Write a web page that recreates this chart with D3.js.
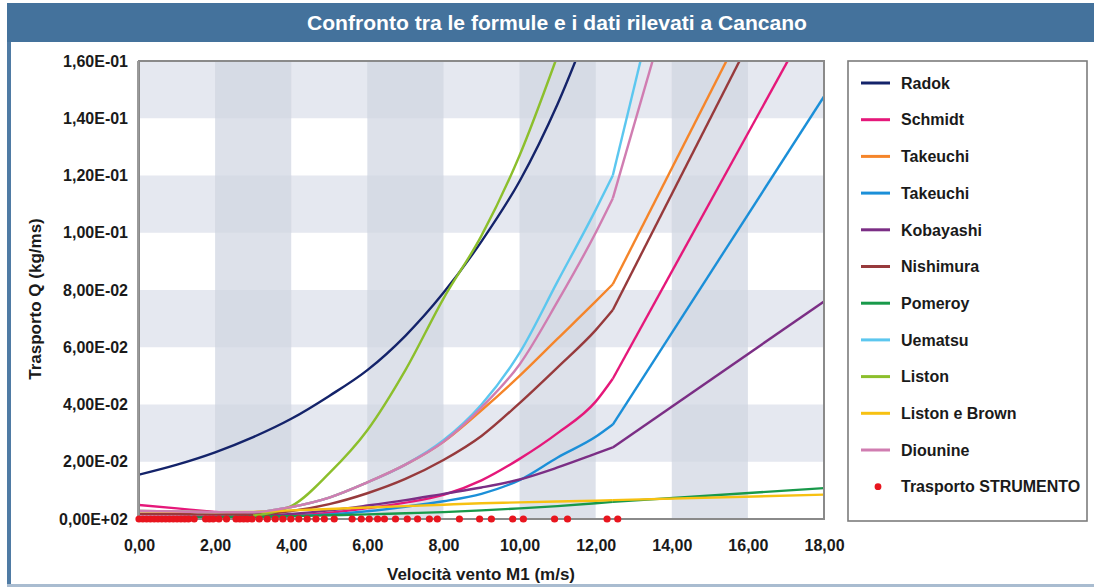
<!DOCTYPE html>
<html>
<head>
<meta charset="utf-8">
<script src="https://cdn.jsdelivr.net/npm/d3@7"></script>
<style>
  html, body { margin: 0; padding: 0; background: #ffffff; }
  svg { display: block; }
  text { font-family: "Liberation Sans", Arial, sans-serif; font-weight: bold; fill: #1a1a1a; }
</style>
</head>
<body>
<svg id="chart" width="1094" height="588"></svg>
<script>
// ---------- DATA ----------
const windSpeed = [0, 1, 2, 3, 4, 5, 6, 7, 8, 9, 10, 11, 12, 12.45, 18];

const radok        = [0.0155, 0.019, 0.0233, 0.0286, 0.035, 0.043, 0.052, 0.064, 0.079, 0.097, 0.118, 0.145, 0.178, null, null];
const schmidt      = [0.0049, 0.0037, 0.0025, 0.0015, 0.0013, 0.0022, 0.0038, 0.0057, 0.0084, 0.0135, 0.021, 0.030, 0.041, 0.049, 0.183];
const takeuchiA    = [0.0028, 0.0026, 0.0024, 0.0024, 0.0042, 0.0075, 0.0128, 0.019, 0.027, 0.038, 0.050, 0.063, 0.076, 0.082, 0.227];
const takeuchiB    = [0.0006, 0.0005, 0.0005, 0.0005, 0.0009, 0.0016, 0.0027, 0.0043, 0.0062, 0.0088, 0.0136, 0.0215, 0.0287, 0.033, 0.1476];
const kobayashi    = [0.0008, 0.0008, 0.0009, 0.0011, 0.0018, 0.003, 0.0047, 0.0066, 0.0088, 0.011, 0.0138, 0.018, 0.0228, 0.025, 0.076];
const nishimura    = [0.0018, 0.0017, 0.0016, 0.0016, 0.0028, 0.0052, 0.009, 0.014, 0.0206, 0.029, 0.0405, 0.053, 0.066, 0.073, 0.218];
const pomeroy      = [0.0003, 0.0004, 0.0006, 0.0008, 0.001, 0.0013, 0.0016, 0.002, 0.0024, 0.003, 0.0037, 0.0045, 0.0055, 0.006, 0.0108];
const uematsu      = [0.0028, 0.0026, 0.0024, 0.0024, 0.0042, 0.0075, 0.0128, 0.019, 0.0275, 0.040, 0.058, 0.083, 0.108, 0.120, 0.425];
const liston       = [null, null, null, 0.0012, 0.0045, 0.016, 0.031, 0.052, 0.077, 0.099, 0.127, 0.162, 0.200, null, null];
const listonBrown  = [0.0027, 0.0025, 0.0024, 0.0025, 0.003, 0.0035, 0.004, 0.0045, 0.005, 0.0055, 0.0058, 0.0061, 0.0064, 0.0066, 0.0085];
const diounine     = [0.0028, 0.0026, 0.0024, 0.0024, 0.0042, 0.0075, 0.0128, 0.019, 0.027, 0.039, 0.054, 0.076, 0.100, 0.112, 0.367];

const seriesNames  = ["Radok", "Schmidt", "Takeuchi", "Takeuchi", "Kobayashi", "Nishimura", "Pomeroy", "Uematsu", "Liston", "Liston e Brown", "Diounine"];
const seriesValues = [radok, schmidt, takeuchiA, takeuchiB, kobayashi, nishimura, pomeroy, uematsu, liston, listonBrown, diounine];
const seriesColors = ["#14236a", "#e5187a", "#f5852a", "#1b8fd8", "#7b2e85", "#973a3c", "#18994a", "#5cc7ef", "#8cbf2c", "#f7c112", "#d07db1"];

const strumentoName = "Trasporto STRUMENTO";
const strumentoX = [0, 0.1, 0.2, 0.3, 0.4, 0.5, 0.6, 0.7, 0.8, 0.9, 1.0, 1.1, 1.2, 1.3, 1.45,
                    1.75, 1.85, 1.95, 2.1, 2.3, 2.55, 2.65, 2.75, 2.85, 2.97, 3.16, 3.37, 3.58,
                    3.78, 3.99, 4.2, 4.42, 4.65, 4.87, 5.13, 5.6, 5.84, 6.05, 6.27, 6.45, 6.74,
                    7.05, 7.32, 7.63, 7.84, 8.42, 8.95, 9.26, 9.82, 10.1, 10.92, 11.26, 12.3, 12.58];
const strumentoQ = [0, 0, 0, 0, 0, 0, 0, 0, 0, 0, 0, 0, 0, 0, 0,
                    0, 0, 0, 0, 0, 0, 0, 0, 0, 0, 0, 0, 0,
                    0, 0, 0, 0, 0, 0, 0, 0, 0, 0, 0, 0, 0,
                    0, 0, 0, 0, 0, 0, 0, 0, 0, 0, 0, 0, 0];

const xTicks = [0, 2, 4, 6, 8, 10, 12, 14, 16, 18];
const xTickLabels = ["0,00", "2,00", "4,00", "6,00", "8,00", "10,00", "12,00", "14,00", "16,00", "18,00"];
const yTicks = [0, 0.02, 0.04, 0.06, 0.08, 0.10, 0.12, 0.14, 0.16];
const yTickLabels = ["0,00E+02", "2,00E-02", "4,00E-02", "6,00E-02", "8,00E-02", "1,00E-01", "1,20E-01", "1,40E-01", "1,60E-01"];
const hBands = [[0.02, 0.04], [0.06, 0.08], [0.10, 0.12], [0.14, 0.16]];
const vBands = [[2, 4], [6, 8], [10, 12], [14, 16]];

const titleText = "Confronto tra le formule e i dati rilevati a Cancano";
const xTitle = "Velocità vento M1 (m/s)";
const yTitle = "Trasporto Q (kg/ms)";
const kinkIndex = 13;

// ---------- DRAW ----------
const svg = d3.select("#chart");
const W = 1094, H = 588;
const plot = { left: 139, right: 824, top: 61, bottom: 519 };

const x = d3.scaleLinear().domain([0, 18]).range([plot.left, plot.right]);
const y = d3.scaleLinear().domain([0, 0.16]).range([plot.bottom, plot.top]);

// frame
svg.append("rect").attr("x", 0).attr("y", 0).attr("width", W).attr("height", H).attr("fill", "#ffffff");
svg.append("rect").attr("x", 7).attr("y", 3).attr("width", W - 7).attr("height", 39).attr("fill", "#44729c");
svg.append("rect").attr("x", 7).attr("y", 42).attr("width", 4).attr("height", 544).attr("fill", "#4f7ba4");
svg.append("rect").attr("x", 7).attr("y", 584).attr("width", W - 7).attr("height", 3).attr("fill", "#a9bcd0");

svg.append("text")
  .attr("x", 557).attr("y", 30)
  .attr("text-anchor", "middle")
  .attr("textLength", 500).attr("lengthAdjust", "spacingAndGlyphs")
  .style("font-family", "'Liberation Sans Narrow', 'Liberation Sans', Arial, sans-serif")
  .style("font-size", "21px")
  .style("fill", "#ffffff")
  .text(titleText);

// background bands
const g = svg.append("g");
g.append("rect").attr("x", plot.left).attr("y", plot.top)
  .attr("width", plot.right - plot.left).attr("height", plot.bottom - plot.top).attr("fill", "#ffffff");
g.selectAll("rect.hb").data(hBands).enter().append("rect").attr("class", "hb")
  .attr("x", plot.left).attr("width", plot.right - plot.left)
  .attr("y", d => y(d[1])).attr("height", d => y(d[0]) - y(d[1]))
  .attr("fill", "#e5e8f0");
g.selectAll("rect.vb").data(vBands).enter().append("rect").attr("class", "vb")
  .attr("y", plot.top).attr("height", plot.bottom - plot.top)
  .attr("x", d => x(d[0])).attr("width", d => x(d[1]) - x(d[0]))
  .attr("fill", "#dde1ea");
const cells = [];
vBands.forEach(v => hBands.forEach(h => cells.push({ v, h })));
g.selectAll("rect.cb").data(cells).enter().append("rect").attr("class", "cb")
  .attr("x", d => x(d.v[0])).attr("width", d => x(d.v[1]) - x(d.v[0]))
  .attr("y", d => y(d.h[1])).attr("height", d => y(d.h[0]) - y(d.h[1]))
  .attr("fill", "#d6dbe5");

// clip
svg.append("defs").append("clipPath").attr("id", "clip")
  .append("rect").attr("x", plot.left).attr("y", plot.top)
  .attr("width", plot.right - plot.left).attr("height", plot.bottom - plot.top);

const lines = svg.append("g").attr("clip-path", "url(#clip)");
const smooth = d3.line().defined(d => d.v != null).x(d => x(d.x)).y(d => y(d.v)).curve(d3.curveMonotoneX);
const straight = d3.line().defined(d => d.v != null).x(d => x(d.x)).y(d => y(d.v));

seriesValues.forEach((vals, i) => {
  const pts = windSpeed.map((xx, j) => ({ x: xx, v: vals[j] }));
  lines.append("path").datum(pts.slice(0, kinkIndex + 1))
    .attr("d", smooth).attr("fill", "none")
    .attr("stroke", seriesColors[i]).attr("stroke-width", 2.4);
  lines.append("path").datum(pts.slice(kinkIndex))
    .attr("d", straight).attr("fill", "none")
    .attr("stroke", seriesColors[i]).attr("stroke-width", 2.4);
});

// plot border
svg.append("rect").attr("x", plot.left).attr("y", plot.top)
  .attr("width", plot.right - plot.left).attr("height", plot.bottom - plot.top)
  .attr("fill", "none").attr("stroke", "#8a8a8a").attr("stroke-width", 2);
svg.append("line").attr("x1", plot.left - 1).attr("x2", plot.left - 1)
  .attr("y1", plot.top).attr("y2", plot.bottom + 1)
  .attr("stroke", "#9a9a9a").attr("stroke-width", 2);

// measured points
svg.append("g").selectAll("circle").data(strumentoX).enter().append("circle")
  .attr("cx", d => x(d)).attr("cy", (d, i) => y(strumentoQ[i]))
  .attr("r", 3.6).attr("fill", "#e8151e");

// axes
const yAxis = svg.append("g").attr("transform", `translate(${plot.left},0)`)
  .call(d3.axisLeft(y).tickValues(yTicks).tickFormat((d, i) => yTickLabels[i]).tickSize(0).tickPadding(11));
yAxis.select(".domain").remove();
yAxis.selectAll("text").style("font-size", "16px").style("font-family", "'Liberation Sans', Arial, sans-serif").style("font-weight", "bold").attr("fill", "#1a1a1a");

const xAxis = svg.append("g").attr("transform", `translate(0,${plot.bottom})`)
  .call(d3.axisBottom(x).tickValues(xTicks).tickFormat((d, i) => xTickLabels[i]).tickSize(0).tickPadding(21));
xAxis.select(".domain").remove();
xAxis.selectAll("text").style("font-size", "16px").style("font-family", "'Liberation Sans', Arial, sans-serif").style("font-weight", "bold").attr("fill", "#1a1a1a");

svg.append("text").attr("x", 481).attr("y", 580).attr("text-anchor", "middle")
  .style("font-size", "17px").text(xTitle);
svg.append("text").attr("transform", "translate(41,299) rotate(-90)").attr("text-anchor", "middle")
  .style("font-size", "17px").text(yTitle);

// legend
const leg = svg.append("g");
leg.append("rect").attr("x", 848).attr("y", 61).attr("width", 239).attr("height", 460)
  .attr("fill", "#ffffff").attr("stroke", "#7c7c7c").attr("stroke-width", 1.6);
const rowY = i => 83 + i * 36.7;
seriesNames.forEach((name, i) => {
  leg.append("line").attr("x1", 861).attr("x2", 890).attr("y1", rowY(i)).attr("y2", rowY(i))
    .attr("stroke", seriesColors[i]).attr("stroke-width", 3);
  leg.append("text").attr("x", 901).attr("y", rowY(i)).attr("dy", "0.36em")
    .style("font-size", "16px").text(name);
});
leg.append("circle").attr("cx", 878).attr("cy", rowY(11)).attr("r", 3.4).attr("fill", "#e8151e");
leg.append("text").attr("x", 901).attr("y", rowY(11)).attr("dy", "0.36em")
  .style("font-size", "16px").text(strumentoName);
</script>
</body>
</html>
